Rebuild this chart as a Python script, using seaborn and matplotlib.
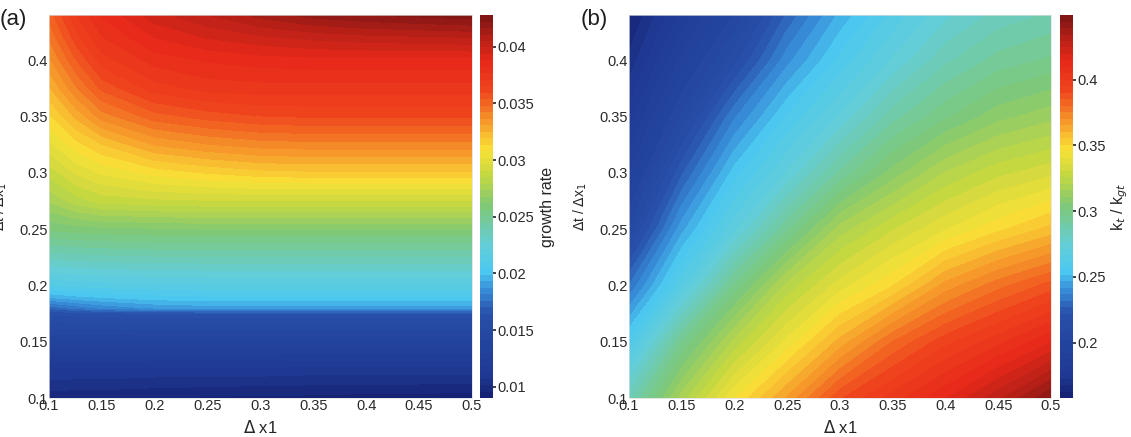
import numpy as np
import matplotlib
matplotlib.use("Agg")
import matplotlib.pyplot as plt
from matplotlib.colors import LinearSegmentedColormap
import seaborn as sns

# ----- panel (a): growth rate -----
dx_a = [0.1, 0.125, 0.15, 0.2, 0.25, 0.3, 0.35, 0.4, 0.45, 0.5]
ratio_a = [0.1, 0.125, 0.15, 0.175, 0.18, 0.19, 0.2, 0.225, 0.25, 0.275,
           0.3, 0.325, 0.35, 0.375, 0.4, 0.42, 0.44]
growth_rate = [
    [0.0098, 0.0097, 0.0097, 0.0096, 0.0095, 0.0094, 0.0094, 0.0093, 0.0093, 0.0092],
    [0.0112, 0.0112, 0.0112, 0.0111, 0.0111, 0.0111, 0.0110, 0.0110, 0.0110, 0.0110],
    [0.0135, 0.0135, 0.0135, 0.0135, 0.0135, 0.0135, 0.0135, 0.0135, 0.0135, 0.0135],
    [0.0160, 0.0161, 0.0162, 0.0163, 0.0163, 0.0163, 0.0163, 0.0163, 0.0163, 0.0163],
    [0.0172, 0.0178, 0.0183, 0.0188, 0.0190, 0.0190, 0.0190, 0.0190, 0.0190, 0.0190],
    [0.0195, 0.0198, 0.0200, 0.0203, 0.0204, 0.0204, 0.0204, 0.0204, 0.0204, 0.0204],
    [0.0210, 0.0212, 0.0213, 0.0214, 0.0215, 0.0215, 0.0215, 0.0215, 0.0215, 0.0215],
    [0.0235, 0.0236, 0.0237, 0.0238, 0.0238, 0.0238, 0.0238, 0.0238, 0.0238, 0.0238],
    [0.0257, 0.0259, 0.0260, 0.0261, 0.0262, 0.0262, 0.0262, 0.0262, 0.0262, 0.0262],
    [0.0274, 0.0282, 0.0287, 0.0289, 0.0290, 0.0290, 0.0290, 0.0290, 0.0290, 0.0290],
    [0.0287, 0.0297, 0.0303, 0.0310, 0.0314, 0.0317, 0.0318, 0.0318, 0.0318, 0.0318],
    [0.0300, 0.0311, 0.0319, 0.0331, 0.0336, 0.0339, 0.0340, 0.0340, 0.0340, 0.0340],
    [0.0312, 0.0326, 0.0339, 0.0351, 0.0356, 0.0359, 0.0360, 0.0360, 0.0360, 0.0360],
    [0.0324, 0.0341, 0.0355, 0.0368, 0.0373, 0.0374, 0.0374, 0.0374, 0.0374, 0.0374],
    [0.0335, 0.0353, 0.0368, 0.0379, 0.0383, 0.0385, 0.0386, 0.0386, 0.0386, 0.0386],
    [0.0343, 0.0362, 0.0376, 0.0388, 0.0394, 0.0398, 0.0401, 0.0403, 0.0404, 0.0405],
    [0.0350, 0.0370, 0.0383, 0.0397, 0.0405, 0.0413, 0.0419, 0.0422, 0.0424, 0.0426],
]

# ----- panel (b): kt / kgt -----
dx_b = [0.1, 0.15, 0.2, 0.25, 0.3, 0.35, 0.4, 0.45, 0.5]
ratio_b = [0.1, 0.15, 0.2, 0.25, 0.3, 0.35, 0.4, 0.44]
k_ratio = [
    [0.284, 0.318, 0.345, 0.366, 0.389, 0.402, 0.414, 0.428, 0.444],
    [0.258, 0.296, 0.322, 0.342, 0.362, 0.380, 0.393, 0.403, 0.414],
    [0.232, 0.265, 0.297, 0.322, 0.338, 0.350, 0.367, 0.378, 0.387],
    [0.208, 0.245, 0.270, 0.295, 0.318, 0.330, 0.340, 0.349, 0.357],
    [0.192, 0.226, 0.254, 0.272, 0.292, 0.308, 0.321, 0.329, 0.334],
    [0.180, 0.208, 0.236, 0.257, 0.272, 0.289, 0.300, 0.309, 0.314],
    [0.169, 0.194, 0.215, 0.240, 0.258, 0.272, 0.285, 0.293, 0.297],
    [0.162, 0.184, 0.203, 0.228, 0.248, 0.263, 0.275, 0.283, 0.287],
]

x_ticks = [0.1, 0.15, 0.2, 0.25, 0.3, 0.35, 0.4, 0.45, 0.5]
y_ticks = [0.1, 0.15, 0.2, 0.25, 0.3, 0.35, 0.4]
cbar_a_ticks = [0.01, 0.015, 0.02, 0.025, 0.03, 0.035, 0.04]
cbar_b_ticks = [0.2, 0.25, 0.3, 0.35, 0.4]

sns.set_theme(style="white")
plt.rcParams["font.family"] = ["Liberation Sans", "DejaVu Sans"]
plt.rcParams["text.color"] = "#1e1e1e"

# soft jet-like map as printed in the figure
jet_soft = LinearSegmentedColormap.from_list("jet_soft", [
    (0.00, "#141e6e"), (0.05, "#1e3791"), (0.22, "#2850aa"),
    (0.28, "#378cd7"), (0.33, "#4bc8f0"), (0.40, "#64cdd7"),
    (0.50, "#7dc878"), (0.58, "#c3d741"), (0.65, "#fae137"),
    (0.73, "#f59128"), (0.80, "#f0461e"), (0.88, "#e62819"),
    (0.95, "#af1e16"), (1.00, "#781414"),
])

fig = plt.figure(figsize=(11.31, 4.37), dpi=100)
ax_a = fig.add_axes([0.0433, 0.0892, 0.374, 0.8764])
cax_a = fig.add_axes([0.4244, 0.0892, 0.0115, 0.8764])
ax_b = fig.add_axes([0.5561, 0.0892, 0.3731, 0.8764])
cax_b = fig.add_axes([0.9372, 0.0892, 0.0115, 0.8764])


def draw(ax, cax, xs, ys, zs, vmin, vmax, cticks, clabel, clabel_x):
    levels = np.linspace(vmin, vmax, 60)
    cs = ax.contourf(xs, ys, np.array(zs), levels=levels, cmap=jet_soft)
    ax.set_xlim(0.1, 0.5)
    ax.set_ylim(0.1, 0.44)
    ax.set_xticks(x_ticks)
    ax.set_xticklabels([f"{t:g}" for t in x_ticks])
    ax.set_yticks(y_ticks)
    ax.set_yticklabels([f"{t:g}" for t in y_ticks])
    ax.tick_params(labelsize=10.5, direction="in", length=3, pad=1,
                   colors="#2a2a2a")
    for s in ax.spines.values():
        s.set_linewidth(0.5)
        s.set_color("#dddddd")
    ax.set_xlabel(r"$\Delta$ x1", fontsize=12, labelpad=0)
    ax.xaxis.set_label_coords(0.5, -0.055)
    ax.set_ylabel(r"$\Delta$t / $\Delta$x$_1$", fontsize=10)
    ax.yaxis.set_label_coords(-0.095, 0.5)

    cb = fig.colorbar(cs, cax=cax)
    cb.set_ticks(cticks)
    cb.set_ticklabels([f"{t:g}" for t in cticks])
    cb.ax.tick_params(labelsize=10.5, length=2, pad=1, colors="#2a2a2a")
    cb.outline.set_visible(False)
    cb.set_label(clabel, fontsize=11.5)
    cb.ax.yaxis.set_label_coords(clabel_x, 0.5)


draw(ax_a, cax_a, dx_a, ratio_a, growth_rate, 0.009, 0.0428,
     cbar_a_ticks, "growth rate", 4.6)
draw(ax_b, cax_b, dx_b, ratio_b, k_ratio, 0.158, 0.449,
     cbar_b_ticks, r"k$_t$ / k$_{gt}$", 3.8)

fig.text(0.0, 0.955, "(a)", fontsize=16, va="center", ha="left")
fig.text(0.513, 0.955, "(b)", fontsize=16, va="center", ha="left")

fig.savefig("out.png", dpi=100)
